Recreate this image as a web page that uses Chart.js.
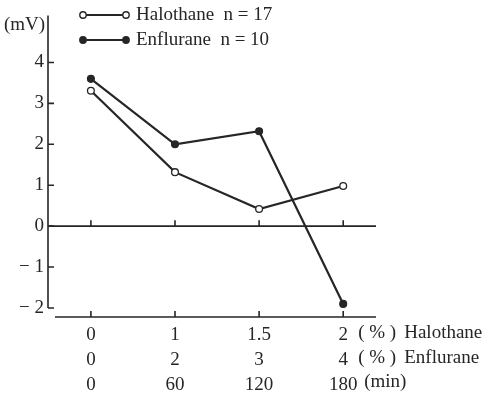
<!DOCTYPE html>
<html>
<head>
<meta charset="utf-8">
<script src="https://cdn.jsdelivr.net/npm/chart.js@4"></script>
<style>
    html, body { margin: 0; padding: 0; background: #fff; }
    #box { width: 488px; height: 395px; }
</style>
</head>
<body>
<div id="box"><canvas id="chart" width="488" height="395"></canvas></div>
<script>
// الفئات وقيم السلاسل
const halothaneDose = ['0', '1', '1.5', '2'];
const enfluraneDose = ['0', '2', '3', '4'];
const timeMin = ['0', '60', '120', '180'];
const halothaneMV = [3.31, 1.32, 0.42, 0.98];
const enfluraneMV = [3.60, 2.00, 2.32, -1.90];
const yTicks = [4, 3, 2, 1, 0, -1, -2];
const seriesNames = ['Halothane  n = 17', 'Enflurane  n = 10'];

const ink = '#262626';
const serif = "'Liberation Serif', 'DejaVu Serif', serif";

// رسم المحاور والمفتاح يدوياً
const axesPlugin = {
    id: 'axesPlugin',
    beforeDatasetsDraw(chart) {
        const { ctx, chartArea, scales } = chart;
        const x = scales.x, y = scales.y;
        const yZero = y.getPixelForValue(0);
        const yLow = y.getPixelForValue(-2);
        ctx.save();
        ctx.strokeStyle = ink;
        ctx.lineWidth = 1.6;

        // المحور الرأسي
        ctx.beginPath();
        ctx.moveTo(chartArea.left, chartArea.top);
        ctx.lineTo(chartArea.left, yLow);
        yTicks.forEach(v => {
            const py = y.getPixelForValue(v);
            ctx.moveTo(chartArea.left, py);
            ctx.lineTo(chartArea.left + 6, py);
        });
        ctx.stroke();

        // خط الصفر
        ctx.beginPath();
        ctx.moveTo(chartArea.left, yZero);
        ctx.lineTo(chartArea.right, yZero);
        // الخط السفلي
        ctx.moveTo(chartArea.left + 7, chartArea.bottom);
        ctx.lineTo(chartArea.right, chartArea.bottom);
        timeMin.forEach((t, i) => {
            const px = x.getPixelForValue(i);
            ctx.moveTo(px, yZero);
            ctx.lineTo(px, yZero - 6);
            ctx.moveTo(px, chartArea.bottom);
            ctx.lineTo(px, chartArea.bottom - 6);
        });
        ctx.stroke();
        ctx.restore();
    },
    afterDraw(chart) {
        const { ctx, scales } = chart;
        const lastX = scales.x.getPixelForValue(timeMin.length - 1);
        ctx.save();
        ctx.fillStyle = ink;
        ctx.font = '19px ' + serif;
        ctx.textBaseline = 'middle';
        ctx.textAlign = 'left';
        ctx.fillText('(mV)', 4, 25);

        // وحدات المحور الأفقي
        ctx.fillText('( % )', lastX + 15, 333);
        ctx.fillText('Halothane', lastX + 61, 333);
        ctx.fillText('( % )', lastX + 15, 358);
        ctx.fillText('Enflurane', lastX + 61, 358);
        ctx.fillText('(min)', lastX + 21, 382);

        // المفتاح
        const rows = [15, 40];
        ctx.strokeStyle = ink;
        ctx.lineWidth = 2;
        rows.forEach((ry, i) => {
            ctx.beginPath();
            ctx.moveTo(83, ry);
            ctx.lineTo(126, ry);
            ctx.stroke();
            [83, 126].forEach(cx => {
                ctx.beginPath();
                ctx.arc(cx, ry, 3.2, 0, Math.PI * 2);
                ctx.fillStyle = i === 0 ? '#fff' : ink;
                ctx.fill();
                ctx.lineWidth = 1.4;
                ctx.stroke();
                ctx.lineWidth = 2;
            });
            ctx.fillStyle = ink;
            ctx.fillText(seriesNames[i], 136, ry);
        });
        ctx.restore();
    }
};

const toPoints = arr => arr.map((v, i) => ({ x: i, y: v }));

new Chart(document.getElementById('chart').getContext('2d'), {
    type: 'line',
    data: {
        datasets: [
            {
                label: seriesNames[0],
                data: toPoints(halothaneMV),
                borderColor: ink,
                borderWidth: 2.2,
                pointRadius: 3.4,
                pointBackgroundColor: '#fff',
                pointBorderColor: ink,
                pointBorderWidth: 1.3,
                tension: 0
            },
            {
                label: seriesNames[1],
                data: toPoints(enfluraneMV),
                borderColor: ink,
                borderWidth: 2.2,
                pointRadius: 3.4,
                pointBackgroundColor: ink,
                pointBorderColor: ink,
                pointBorderWidth: 1.3,
                tension: 0
            }
        ]
    },
    options: {
        responsive: false,
        animation: false,
        layout: { padding: { left: 0, right: 112, top: 15, bottom: 0 } },
        plugins: {
            legend: { display: false },
            tooltip: { enabled: false }
        },
        scales: {
            x: {
                type: 'linear',
                min: -0.51,
                max: 3.39,
                grid: { display: false, drawTicks: false },
                border: { display: false },
                afterBuildTicks: s => { s.ticks = timeMin.map((t, i) => ({ value: i })); },
                afterFit: s => { s.height = 78; },
                ticks: {
                    padding: 6,
                    color: ink,
                    font: { family: serif, size: 19, lineHeight: 1.31 },
                    autoSkip: false,
                    maxRotation: 0,
                    callback: (v, i) => [halothaneDose[i], enfluraneDose[i], timeMin[i]]
                }
            },
            y: {
                min: -2.22,
                max: 5.15,
                grid: { display: false, drawTicks: false },
                border: { display: false },
                afterBuildTicks: s => { s.ticks = yTicks.map(v => ({ value: v })); },
                afterFit: s => { s.width = 48; },
                ticks: {
                    padding: 4,
                    color: ink,
                    font: { family: serif, size: 19 },
                    callback: v => v < 0 ? '\u2212 ' + Math.abs(v) : String(v)
                }
            }
        }
    },
    plugins: [axesPlugin]
});
</script>
</body>
</html>
